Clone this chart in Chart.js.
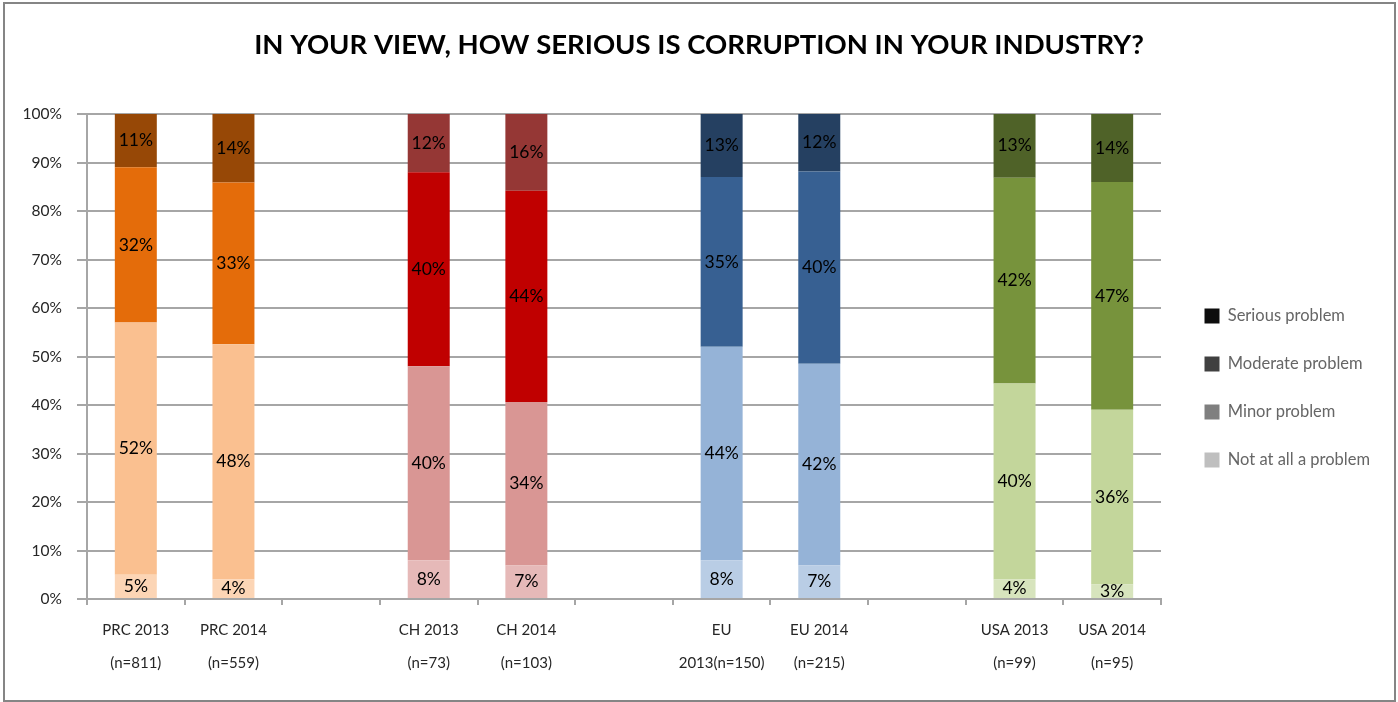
<!DOCTYPE html>
<html>
<head>
<meta charset="utf-8">
<title>How serious is corruption in your industry?</title>
<script src="https://cdn.jsdelivr.net/npm/chart.js@4.4.1/dist/chart.umd.min.js"></script>
<style>
  html, body { margin: 0; padding: 0; background: #fff; }
</style>
</head>
<body>
<canvas id="corruptionChart" width="1398" height="702"></canvas>
<script>
// Survey groups; empty slots leave a gap between the regions
const categories = [
  ['PRC 2013', '(n=811)'],
  ['PRC 2014', '(n=559)'],
  '',
  ['CH 2013', '(n=73)'],
  ['CH 2014', '(n=103)'],
  '',
  ['EU', '2013(n=150)'],
  ['EU 2014', '(n=215)'],
  '',
  ['USA 2013', '(n=99)'],
  ['USA 2014', '(n=95)']
];
const regions = ['PRC', 'PRC', null, 'CH', 'CH', null, 'EU', 'EU', null, 'USA', 'USA'];

// Answers in percent (null for the spacer slots)
const notAtAll = [5, 4, null, 8, 7, null, 8, 7, null, 4, 3];
const minor    = [52, 48, null, 40, 34, null, 44, 42, null, 40, 36];
const moderate = [32, 33, null, 40, 44, null, 35, 40, null, 42, 47];
const serious  = [11, 14, null, 12, 16, null, 13, 12, null, 13, 14];

const yTickValues = [0, 10, 20, 30, 40, 50, 60, 70, 80, 90, 100];

// shades per region: not at all, minor, moderate, serious
const regionColors = {
  PRC: ['#FCD5B5', '#FAC090', '#E46C0A', '#974806'],
  CH:  ['#E6B9B8', '#D99694', '#C00000', '#953735'],
  EU:  ['#B9CDE5', '#95B3D7', '#376092', '#254061'],
  USA: ['#D7E4BD', '#C3D69B', '#77933C', '#4F6228']
};
const legendGrays = ['#BFBFBF', '#7F7F7F', '#404040', '#0D0D0D'];

const FONT = 'Lato';
const GRID = '#A6A6A6';

// each bar is shown as a 100% stack, like the spreadsheet it came from
const totals = notAtAll.map((v, i) => v === null ? null : v + minor[i] + moderate[i] + serious[i]);
const share = arr => arr.map((v, i) => v === null ? null : v / totals[i] * 100);
const shade = level => regions.map(r => r ? regionColors[r][level] : 'transparent');

const series = [
  { label: 'Not at all a problem', values: notAtAll },
  { label: 'Minor problem', values: minor },
  { label: 'Moderate problem', values: moderate },
  { label: 'Serious problem', values: serious }
];

const frame = {
  id: 'frame',
  beforeDraw(chart) {
    const { ctx, width, height } = chart;
    ctx.save();
    ctx.fillStyle = '#fff';
    ctx.fillRect(0, 0, width, height);
    ctx.strokeStyle = '#858585';
    ctx.lineWidth = 2;
    ctx.strokeRect(4, 3, width - 7, height - 4);
    ctx.restore();
  }
};

const segmentLabels = {
  id: 'segmentLabels',
  afterDatasetsDraw(chart) {
    const { ctx } = chart;
    ctx.save();
    ctx.font = '17.5px ' + FONT;
    ctx.fillStyle = '#000';
    ctx.textAlign = 'center';
    ctx.textBaseline = 'middle';
    chart.data.datasets.forEach((ds, i) => {
      chart.getDatasetMeta(i).data.forEach((bar, j) => {
        const v = ds.values[j];
        if (v === null) return;
        ctx.fillText(v + '%', bar.x, (bar.y + bar.base) / 2);
      });
    });
    ctx.restore();
  }
};

const ctx = document.getElementById('corruptionChart').getContext('2d');
const chart = new Chart(ctx, {
  type: 'bar',
  data: {
    labels: categories,
    datasets: series.map((s, i) => ({
      label: s.label,
      values: s.values,
      data: share(s.values),
      backgroundColor: shade(i),
      legendColor: legendGrays[i],
      barPercentage: 0.43,
      categoryPercentage: 1
    }))
  },
  options: {
    responsive: false,
    animation: false,
    layout: { padding: { left: 18, right: 18, top: 29, bottom: 29 } },
    scales: {
      x: {
        stacked: true,
        grid: { drawOnChartArea: false, drawTicks: true, tickLength: 6, color: GRID, lineWidth: 2, offset: true },
        border: { color: GRID, width: 2 },
        ticks: { font: { family: FONT, size: 15, lineHeight: 2.2 }, color: '#262626', padding: 9, maxRotation: 0, autoSkip: false },
        afterFit: s => { s.height = 74; }
      },
      y: {
        stacked: true,
        min: 0,
        max: 100,
        afterBuildTicks: s => { s.ticks = yTickValues.map(v => ({ value: v })); },
        ticks: { callback: v => v + '%', padding: 15, font: { family: FONT, size: 15.5 }, color: '#262626' },
        grid: { color: GRID, lineWidth: 2, tickLength: 10 },
        border: { color: GRID, width: 2 },
        afterFit: s => { s.width = 69; }
      },
      // empty strip between the plot and the legend
      rightGap: {
        position: 'right',
        display: true,
        grid: { display: false },
        border: { display: false },
        ticks: { display: false },
        afterFit: s => { s.width = 12; }
      }
    },
    plugins: {
      title: {
        display: true,
        text: 'IN YOUR VIEW, HOW SERIOUS IS CORRUPTION IN YOUR INDUSTRY?',
        font: { family: FONT, size: 27.5, weight: 'bold', lineHeight: 1.2 },
        color: '#000',
        padding: { top: 0, bottom: 52 }
      },
      legend: {
        position: 'right',
        reverse: true,
        // blank title pushes the key down a little
        title: { display: true, text: '', font: { size: 10, lineHeight: 1.2 }, padding: { top: 62, bottom: 0 } },
        labels: {
          boxWidth: 15,
          boxHeight: 15,
          padding: 31.5,
          font: { family: FONT, size: 16.5 },
          color: '#262626',
          generateLabels: c => c.data.datasets.map((ds, i) => ({
            text: ds.label,
            fillStyle: ds.legendColor,
            strokeStyle: ds.legendColor,
            lineWidth: 0,
            datasetIndex: i,
            hidden: false
          }))
        }
      },
      tooltip: { enabled: false }
    }
  },
  plugins: [frame, segmentLabels]
});
</script>
</body>
</html>
